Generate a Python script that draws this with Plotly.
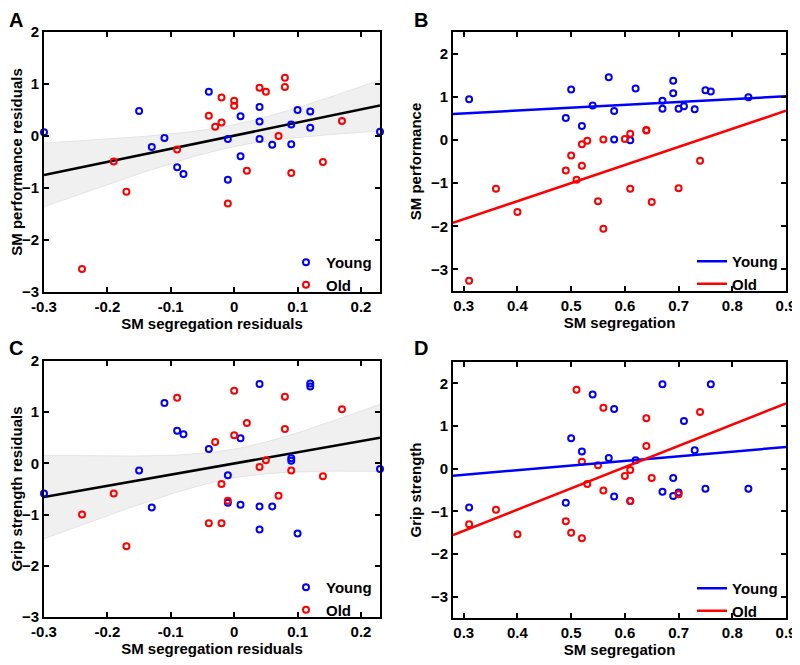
import numpy as np
import plotly.graph_objects as go

# ---------------- data ----------------
# Panel A: SM performance residuals vs SM segregation residuals
a_young_x = [-0.30, -0.15, -0.13, -0.11, -0.09, -0.08, -0.04, -0.01, -0.01, 0.01, 0.01,
             0.04, 0.04, 0.04, 0.06, 0.09, 0.09, 0.10, 0.12, 0.12, 0.23]
a_young_y = [0.07, 0.48, -0.21, -0.04, -0.60, -0.73, 0.85, -0.06, -0.84, 0.38, -0.39,
             0.56, 0.28, -0.06, -0.17, 0.22, -0.16, 0.50, 0.47, 0.16, 0.08]
a_old_x = [-0.24, -0.19, -0.17, -0.09, -0.04, -0.03, -0.02, -0.02, 0.00, 0.00,
           -0.01, 0.02, 0.04, 0.05, 0.07, 0.08, 0.08, 0.09, 0.14, 0.17]
a_old_y = [-2.56, -0.49, -1.07, -0.26, 0.39, 0.18, 0.74, 0.26, 0.68, 0.58,
           -1.30, -0.67, 0.93, 0.85, 0.00, 1.12, 0.94, -0.71, -0.50, 0.29]

# Panel B: SM performance vs SM segregation
b_young_x = [0.31, 0.49, 0.50, 0.52, 0.54, 0.57, 0.58, 0.58, 0.61, 0.62,
             0.67, 0.67, 0.69, 0.69, 0.70, 0.71, 0.73, 0.75, 0.76, 0.83]
b_young_y = [0.94, 0.51, 1.17, 0.32, 0.80, 1.45, 0.67, 0.01, -0.01, 1.19,
             0.91, 0.72, 1.37, 1.08, 0.72, 0.78, 0.71, 1.15, 1.12, 0.99]
b_old_x = [0.31, 0.36, 0.40, 0.49, 0.50, 0.51, 0.52, 0.52, 0.53, 0.55,
           0.56, 0.56, 0.60, 0.61, 0.61, 0.64, 0.64, 0.65, 0.70, 0.74]
b_old_y = [-3.26, -1.13, -1.67, -0.71, -0.36, -0.92, -0.60, -0.10, -0.02, -1.42,
           0.01, -2.06, 0.02, 0.14, -1.13, 0.22, 0.23, -1.44, -1.12, -0.48]

# Panel C: Grip strength residuals vs SM segregation residuals
c_young_x = [-0.30, -0.15, -0.13, -0.11, -0.09, -0.08, -0.04, -0.01, -0.01, 0.01, 0.01,
             0.04, 0.04, 0.04, 0.06, 0.09, 0.09, 0.10, 0.12, 0.12, 0.23]
c_young_y = [-0.59, -0.14, -0.86, 1.18, 0.64, 0.57, 0.28, -0.23, -0.77, 0.49, -0.81,
             1.55, -0.84, -1.29, -0.84, 0.10, 0.05, -1.37, 1.56, 1.50, -0.11]
c_old_x = [-0.24, -0.19, -0.17, -0.09, -0.04, -0.03, -0.02, -0.02, 0.00, 0.00,
           -0.01, 0.02, 0.04, 0.05, 0.07, 0.08, 0.08, 0.09, 0.14, 0.17]
c_old_y = [-1.00, -0.59, -1.62, 1.28, -1.17, 0.42, -0.40, -1.17, 1.42, 0.55,
           -0.73, 0.79, -0.07, 0.06, -0.63, 1.30, 0.67, -0.14, -0.25, 1.06]

# Panel D: Grip strength vs SM segregation
d_young_x = [0.31, 0.49, 0.50, 0.52, 0.54, 0.57, 0.58, 0.58, 0.61, 0.62,
             0.67, 0.67, 0.69, 0.69, 0.70, 0.71, 0.73, 0.75, 0.76, 0.83]
d_young_y = [-0.91, -0.80, 0.71, 0.40, 1.74, 0.25, 1.40, -0.65, -0.76, 0.20,
             1.98, -0.54, -0.22, -0.64, -0.56, 1.12, 0.43, -0.47, 1.98, -0.47]
d_old_x = [0.31, 0.36, 0.40, 0.49, 0.50, 0.51, 0.52, 0.52, 0.53, 0.55,
           0.56, 0.56, 0.60, 0.61, 0.61, 0.64, 0.64, 0.65, 0.70, 0.74]
d_old_y = [-1.30, -0.96, -1.54, -1.23, -1.50, 1.85, 0.16, -1.63, -0.36, 0.08,
           1.43, -0.51, -0.17, -0.03, -0.76, 1.18, 0.53, -0.22, -0.60, 1.33]

group_names = ["Young", "Old"]
panel_letters = ["A", "B", "C", "D"]
x_titles = ["SM segregation residuals", "SM segregation",
            "SM segregation residuals", "SM segregation"]
y_titles = ["SM performance residuals", "SM performance",
            "Grip strength residuals", "Grip strength"]
resid_xrange = [-0.3, 0.23]
resid_yrange = [-3, 2]
raw_xrange = [0.28, 0.9]
raw_yrange = [-3.5, 2.5]
resid_xticks = [-0.3, -0.2, -0.1, 0, 0.1, 0.2]
raw_xticks = [0.3, 0.4, 0.5, 0.6, 0.7, 0.8, 0.9]
yticks = [-3, -2, -1, 0, 1, 2]
T_975 = 2.0227  # t quantile, df = 39

BLUE = "rgb(0,0,255)"
RED = "rgb(255,0,0)"
FONT = "Liberation Sans, Arial, sans-serif"

# The page body has an 8px margin, so the figure is drawn 8px in from the window edge.
OFF = 8
W, H = 800 - OFF, 665 - OFF
# plot-area pixel boxes in window pixels (left, right, top, bottom)
boxes = [(44, 380, 32, 292), (453, 786, 32, 291), (44, 380, 361, 617), (453, 786, 362, 618)]


def dom(b):
    l, r, t, bt = [v - OFF for v in b]
    return [l / W, r / W], [1 - bt / H, 1 - t / H]


fig = go.Figure()


def ols(x, y):
    x = np.asarray(x, float)
    y = np.asarray(y, float)
    b1, b0 = np.polyfit(x, y, 1)
    return b0, b1


def add_scatter(i, x, y, color, name, legend):
    ax = "" if i == 0 else str(i + 1)
    fig.add_trace(go.Scatter(
        x=x, y=y, mode="markers", name=name,
        marker=dict(symbol="circle-open", size=6, color=color, line=dict(width=2, color=color)),
        xaxis="x" + ax, yaxis="y" + ax, legend=legend if legend else "legend",
        showlegend=legend is not None, cliponaxis=False))


# ---- residual panels (A, C): pooled fit + 95% CI band
for i, (yx, yy, ox, oy) in [(0, (a_young_x, a_young_y, a_old_x, a_old_y)),
                            (2, (c_young_x, c_young_y, c_old_x, c_old_y))]:
    ax = "" if i == 0 else str(i + 1)
    leg = "legend" if i == 0 else "legend3"
    xs = np.array(yx + ox, float)
    ys = np.array(yy + oy, float)
    b0, b1 = ols(xs, ys)
    n = len(xs)
    resid = ys - (b0 + b1 * xs)
    s = np.sqrt(np.sum(resid ** 2) / (n - 2))
    xm = xs.mean()
    sxx = np.sum((xs - xm) ** 2)
    gx = np.linspace(resid_xrange[0], resid_xrange[1], 120)
    gy = b0 + b1 * gx
    hw = T_975 * s * np.sqrt(1 / n + (gx - xm) ** 2 / sxx)
    fig.add_trace(go.Scatter(x=gx, y=gy - hw, mode="lines", line=dict(color="#e4e4e4", width=1),
                             xaxis="x" + ax, yaxis="y" + ax, showlegend=False, hoverinfo="skip"))
    fig.add_trace(go.Scatter(x=gx, y=gy + hw, mode="lines", line=dict(color="#e4e4e4", width=1),
                             fill="tonexty", fillcolor="rgba(225,225,225,0.5)",
                             xaxis="x" + ax, yaxis="y" + ax, showlegend=False, hoverinfo="skip"))
    fig.add_trace(go.Scatter(x=[resid_xrange[0], resid_xrange[1]],
                             y=[b0 + b1 * resid_xrange[0], b0 + b1 * resid_xrange[1]],
                             mode="lines", line=dict(color="black", width=2.5),
                             xaxis="x" + ax, yaxis="y" + ax, showlegend=False))
    add_scatter(i, yx, yy, BLUE, group_names[0], leg)
    add_scatter(i, ox, oy, RED, group_names[1], leg)

# ---- raw panels (B, D): scatter + per-group fits (legend shows lines)
for i, (yx, yy, ox, oy) in [(1, (b_young_x, b_young_y, b_old_x, b_old_y)),
                            (3, (d_young_x, d_young_y, d_old_x, d_old_y))]:
    ax = str(i + 1)
    leg = "legend2" if i == 1 else "legend4"
    add_scatter(i, yx, yy, BLUE, group_names[0], None)
    add_scatter(i, ox, oy, RED, group_names[1], None)
    for gxs, gys, col, nm in [(yx, yy, BLUE, group_names[0]), (ox, oy, RED, group_names[1])]:
        b0, b1 = ols(gxs, gys)
        fig.add_trace(go.Scatter(x=[raw_xrange[0], raw_xrange[1]],
                                 y=[b0 + b1 * raw_xrange[0], b0 + b1 * raw_xrange[1]],
                                 mode="lines", line=dict(color=col, width=2.5), name=nm,
                                 xaxis="x" + ax, yaxis="y" + ax, legend=leg, showlegend=True))

layout = dict(width=W, height=H, margin=dict(l=0, r=0, t=0, b=0, autoexpand=False),
              paper_bgcolor="white", plot_bgcolor="white",
              font=dict(family=FONT, size=15, color="black"), showlegend=True)

for i in range(4):
    xd, yd = dom(boxes[i])
    ax = "" if i == 0 else str(i + 1)
    resid = i in (0, 2)
    common = dict(showline=True, linecolor="black", linewidth=2, mirror="ticks",
                  ticks="inside", ticklen=5, tickwidth=1.5, tickcolor="black",
                  showgrid=False, zeroline=False, automargin=False,
                  tickfont=dict(family=FONT, size=15, color="black", weight="bold"))
    layout["xaxis" + ax] = dict(common, domain=xd, anchor="y" + ax,
                                range=resid_xrange if resid else raw_xrange,
                                tickvals=resid_xticks if resid else raw_xticks,
                                ticktext=[("%g" % v) for v in (resid_xticks if resid else raw_xticks)],
                                title=dict(text=x_titles[i], standoff=4,
                                           font=dict(family=FONT, size=15, weight="bold")))
    layout["yaxis" + ax] = dict(common, domain=yd, anchor="x" + ax,
                                range=resid_yrange if resid else raw_yrange,
                                tickvals=yticks,
                                title=dict(text=y_titles[i], standoff=6,
                                           font=dict(family=FONT, size=15, weight="bold")))
    legname = "legend" if i == 0 else "legend%d" % (i + 1)
    l, r, t, b = [v - OFF for v in boxes[i]]
    layout[legname] = dict(x=(r - 3) / W, y=1 - (b + 9) / H, xanchor="right", yanchor="bottom",
                           bgcolor="rgba(0,0,0,0)", borderwidth=0, traceorder="normal",
                           font=dict(family=FONT, size=15, weight="bold", color="black"),
                           itemwidth=30, tracegroupgap=0)

annotations = []
letter_pos = [(8, 7), (413, 7), (8, 336), (413, 336)]  # left edge / cap top in window pixels
for letter, (px, py) in zip(panel_letters, letter_pos):
    annotations.append(dict(text=letter, x=(px - OFF) / W, y=min(1.0, 1 - (py - OFF) / H),
                            xref="paper", yref="paper", borderpad=0,
                            xanchor="left", yanchor="top", showarrow=False,
                            font=dict(family=FONT, size=20, weight="bold", color="black")))
layout["annotations"] = annotations
fig.update_layout(layout)
fig.write_html("out.html")
